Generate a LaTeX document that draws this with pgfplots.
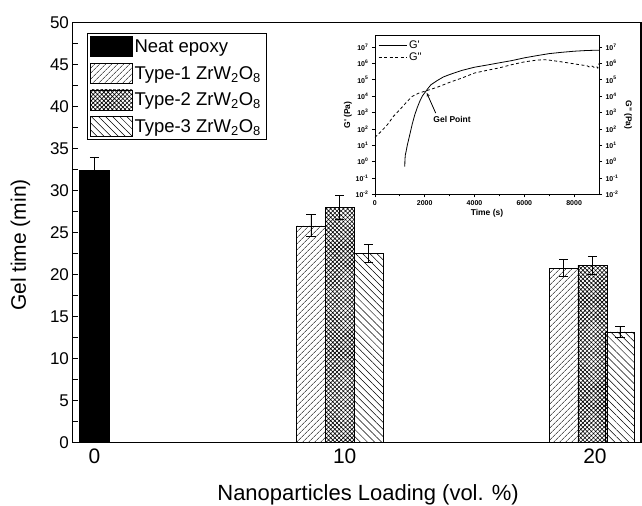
\documentclass[border=0pt]{standalone}
\usepackage{fontspec}
\setmainfont{Liberation Sans}
\usepackage{pgfplots}
\pgfplotsset{compat=1.18}
\usetikzlibrary{arrows.meta,patterns.meta}
\newcommand{\fs}[1]{\fontsize{#1}{#1}\selectfont}
\pgfplotsset{myerr/.style={error bars/.cd, y dir=both, y explicit,
  error bar style={black, line width=0.8pt},
  error mark options={black, rotate=90, mark size=4.6pt, line width=0.8pt}}}
\begin{document}
\begin{tikzpicture}
\useasboundingbox (-72.5pt,-63.3pt) rectangle (570pt,442.7pt);
\begin{axis}[
  at={(0pt,0pt)}, anchor=south west,
  scale only axis, width=569pt, height=420pt,
  xmin=-0.88, xmax=21.84, ymin=0, ymax=50,
  xtick={0,10,20}, xtick pos=bottom,
  major x tick style={draw=none},
  ytick={0,5,...,50}, minor y tick num=1, ytick pos=left,
  tick align=inside, major tick length=5.5pt, minor tick length=5.5pt,
  axis line style={line width=1.2pt},
  every tick/.style={line width=1pt, black},
  /pgf/number format/assume math mode=true,
  yticklabel style={font=\fs{17}},
  xticklabel style={font=\fs{21}, yshift=-3pt},
  xlabel={Nanoparticles Loading (vol. \%)},
  ylabel={Gel time (min)},
  xlabel style={font=\fs{22}, at={(axis description cs:0.52,-0.125)}, anchor=center},
  ylabel style={font=\fs{21}, at={(axis description cs:-0.0915,0.47)}, anchor=center},
  legend cell align=left,
  legend style={at={(axis description cs:0.025,0.975)}, anchor=north west,
    draw=black, line width=0.6pt, font=\fs{18.5}, row sep=6pt, inner sep=3pt,
    nodes={inner sep=2pt}},
  legend image code/.code={\draw[#1, line width=0.6pt] (0pt,-10pt) rectangle (42pt,10pt);},
]
\addplot[ybar, bar shift=0pt, bar width=1.18, draw=black, fill=black, myerr]
  coordinates {(0,32.4) +- (0,1.6)};
\addlegendentry{Neat epoxy}
\addplot[ybar, bar shift=0pt, bar width=1.16, draw=black, line width=0.6pt,
  pattern={Lines[angle=45,distance=4pt,line width=0.5pt]}, myerr]
  coordinates {(8.65,25.8) +- (0,1.3) (18.75,20.75) +- (0,1.0)};
\addlegendentry{Type-1 ZrW\textsubscript{2}O\textsubscript{8}}
\addplot[ybar, bar shift=0pt, bar width=1.16, draw=black, line width=0.6pt,
  pattern={Hatch[angle=45,distance=3pt,line width=0.6pt]}, myerr]
  coordinates {(9.8,28.0) +- (0,1.4) (19.9,21.1) +- (0,1.1)};
\addlegendentry{Type-2 ZrW\textsubscript{2}O\textsubscript{8}}
\addplot[ybar, bar shift=0pt, bar width=1.16, draw=black, line width=0.6pt,
  pattern={Lines[angle=-45,distance=5pt,line width=0.5pt]}, myerr]
  coordinates {(10.95,22.5) +- (0,1.1) (21.0,13.15) +- (0,0.65)};
\addlegendentry{Type-3 ZrW\textsubscript{2}O\textsubscript{8}}
\end{axis}

% inset: right-side labels
\begin{axis}[
  at={(302.7pt,248.2pt)}, anchor=south west,
  scale only axis, width=224.3pt, height=158.8pt,
  xmin=0, xmax=9000, ymode=log, log basis y=10, ymin=1e-2, ymax=5e7,
  axis y line*=right, axis x line=none, clip=false,
  ytick={0.01,0.1,1,10,100,1000,10000,100000,1000000,10000000},
  yminorticks=false,
  tick align=outside, major tick length=3pt,
  axis line style={line width=0.8pt},
  every tick/.style={line width=0.7pt, black},
  yticklabel={10\textsuperscript{\pgfmathparse{int(round(\tick))}\pgfmathresult}},
  yticklabel style={font=\fs{7}\bfseries},
]
\node[font=\fs{8.5}\bfseries, rotate=-90, anchor=center]
  at (rel axis cs:1.13,0.5) {G\textquotedbl\ (Pa)};
\end{axis}

% inset: main
\begin{axis}[
  at={(302.7pt,248.2pt)}, anchor=south west,
  scale only axis, width=224.3pt, height=158.8pt,
  xmin=0, xmax=9000, ymode=log, log basis y=10, ymin=1e-2, ymax=5e7,
  xtick={0,2000,4000,6000,8000}, minor x tick num=1,
  ytick={0.01,0.1,1,10,100,1000,10000,100000,1000000,10000000},
  yminorticks=false, ytick pos=left, xtick pos=bottom,
  tick align=outside, major tick length=3pt, minor tick length=2pt,
  axis line style={line width=0.8pt},
  every tick/.style={line width=0.7pt, black},
  /pgf/number format/set thousands separator={},
  /pgf/number format/assume math mode=true,
  xticklabel style={font=\fs{7}\bfseries},
  yticklabel={10\textsuperscript{\pgfmathparse{int(round(\tick))}\pgfmathresult}},
  yticklabel style={font=\fs{7}\bfseries},
  xlabel={Time (s)}, ylabel={G\textquotesingle\ (Pa)},
  xlabel style={font=\fs{8.5}\bfseries, yshift=3pt},
  ylabel style={font=\fs{8.5}\bfseries, yshift=-3pt},
  legend cell align=left,
  legend style={at={(axis description cs:0.01,0.99)}, anchor=north west,
    draw=none, fill=none, font=\fs{11}, row sep=-1pt, inner sep=1pt},
  legend image code/.code={\draw[#1] (0pt,0pt) -- (28pt,0pt);},
]
\addplot[black, line width=0.8pt] coordinates {
(1200,0.5) (1205,1.2) (1220,2.5) (1250,4) (1300,10) (1400,44) (1500,200)
(1600,720) (1700,2000) (1800,4800) (1900,1.0e4) (2000,1.6e4) (2100,2.6e4)
(2250,5.0e4) (2500,9e4) (2750,1.5e5) (3000,2.1e5) (3500,3.8e5) (4000,5.9e5)
(4500,8.0e5) (5000,1.1e6) (5500,1.5e6) (6000,2.2e6) (6500,3.0e6) (7000,4.0e6)
(7500,4.8e6) (8000,5.6e6) (8500,6.2e6) (9000,6.5e6)};
\addlegendentry{G\textquotesingle}
\addplot[black, line width=0.8pt, dash pattern=on 3pt off 2.5pt] coordinates {
(0,30) (250,70) (500,180) (750,600) (1000,1500) (1250,4000) (1500,9800)
(1750,1.5e4) (2000,2.0e4) (2500,3.5e4) (3000,7e4) (3500,1.3e5) (4000,2.6e5)
(4500,3.8e5) (5000,5.4e5) (5500,8.5e5) (6000,1.25e6) (6500,1.6e6) (6800,1.7e6)
(7000,1.6e6) (7500,1.25e6) (8000,9.5e5) (8300,8e5) (8500,7.5e5) (8600,6.2e5)
(8700,7.2e5) (8800,5.8e5) (8900,6.5e5) (8950,5.2e5) (9000,1.0e6)};
\addlegendentry{G\textquotedbl}
\draw[-{Stealth[length=4pt,width=3pt]}, line width=0.8pt]
  (axis cs:2440,933) -- (axis cs:2080,1.6e4);
\node[font=\fs{8.5}\bfseries, anchor=center] at (axis cs:3100,363) {Gel Point};
\end{axis}
\end{tikzpicture}
\end{document}
